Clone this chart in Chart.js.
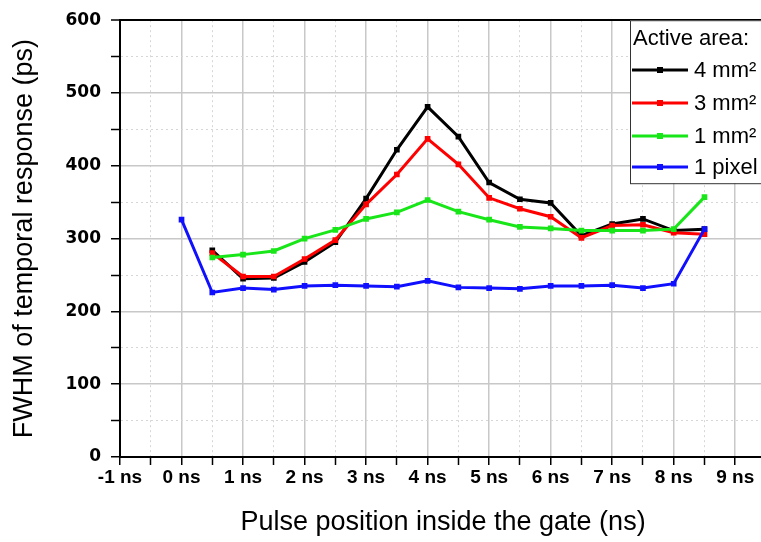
<!DOCTYPE html>
<html>
<head>
<meta charset="utf-8">
<script src="https://cdn.jsdelivr.net/npm/chart.js@4/dist/chart.umd.min.js"></script>
<style>
  html, body { margin: 0; padding: 0; background: #fff; overflow: hidden; }
  #wrap { width: 761px; height: 542px; overflow: hidden; }
</style>
</head>
<body>
<div id="wrap"><canvas id="graph" width="800" height="542"></canvas></div>
<script>
// pulse positions (ns)
const positions = [0, 0.5, 1, 1.5, 2, 2.5, 3, 3.5, 4, 4.5, 5, 5.5, 6, 6.5, 7, 7.5, 8, 8.5];

// FWHM (ps) per active area, null = not measured
const area4mm = [null, 284, 245, 246, 268, 295, 355, 422, 481, 440, 377, 354, 349, 304, 320, 327, 311, 313];
const area3mm = [null, 280, 248, 248, 272, 298, 347, 388, 437, 402, 356, 341, 330, 301, 318, 319, 308, 306];
const area1mm = [null, 274, 278, 283, 300, 312, 327, 336, 353, 337, 326, 316, 314, 311, 311, 311, 313, 357];
const area1pix = [326, 226, 232, 230, 235, 236, 235, 234, 242, 233, 232, 231, 235, 235, 236, 232, 238, 313];

const seriesNames = ['4 mm\u00B2', '3 mm\u00B2', '1 mm\u00B2', '1 pixel'];
const seriesColors = ['#000000', '#ff0000', '#19e619', '#1010ff'];
const legendTitle = 'Active area:';

function toPoints(arr) {
    return positions.map((x, i) => ({ x: x, y: arr[i] }));
}

function isMajor(ctx, step) {
    if (!ctx.tick) return true;
    return Math.abs(ctx.tick.value / step - Math.round(ctx.tick.value / step)) < 1e-6;
}

// legend box drawn in the upper right, like the original
const boxLegend = {
    id: 'boxLegend',
    afterDraw(chart) {
        const c = chart.ctx;
        const top = chart.chartArea.top;
        c.save();
        c.fillStyle = '#fff';
        c.strokeStyle = '#333';
        c.lineWidth = 1;
        c.fillRect(630, top, 170, 163);
        c.strokeRect(630.5, top + 0.5, 170, 163);
        c.fillStyle = '#000';
        c.textBaseline = 'middle';
        c.font = '22px "Liberation Sans", Arial, sans-serif';
        c.fillText(legendTitle, 633, top + 19);
        const rows = [70, 103, 136, 167];
        chart.data.datasets.forEach((ds, i) => {
            const y = rows[i];
            c.strokeStyle = ds.borderColor;
            c.lineWidth = 3;
            c.beginPath();
            c.moveTo(632, y);
            c.lineTo(688, y);
            c.stroke();
            c.fillStyle = ds.borderColor;
            c.fillRect(657, y - 3, 6, 6);
            c.fillStyle = '#000';
            c.fillText(ds.label, 694, y + 1);
        });
        c.restore();
    }
};

const datasets = [area4mm, area3mm, area1mm, area1pix].map((arr, i) => ({
    label: seriesNames[i],
    data: toPoints(arr),
    borderColor: seriesColors[i],
    backgroundColor: seriesColors[i],
    borderWidth: 3,
    pointStyle: 'rect',
    pointRadius: 4,
    pointBorderWidth: 0,
    tension: 0,
    spanGaps: false,
    order: 3 - i          // later series on top
}));

const tickFontX = { family: '"Liberation Sans", Arial, sans-serif', size: 19, weight: 'bold' };
const tickFontY = { family: '"DejaVu Sans", sans-serif', size: 17, weight: 'bold' };

new Chart(document.getElementById('graph').getContext('2d'), {
    type: 'line',
    data: { datasets: datasets },
    options: {
        responsive: false,
        animation: false,
        layout: { padding: { top: 19, right: 34, left: 0, bottom: 0 } },
        plugins: { legend: { display: false }, tooltip: { enabled: false } },
        scales: {
            x: {
                type: 'linear',
                min: -1,
                max: 9.5,
                ticks: {
                    stepSize: 0.5,
                    autoSkip: false,
                    maxRotation: 0,
                    padding: 1,
                    color: '#000',
                    font: tickFontX,
                    callback: v => Number.isInteger(v) ? v + ' ns' : ''
                },
                grid: {
                    color: ctx => isMajor(ctx, 1) ? '#c8c8c8' : '#d6d6d6',
                    lineWidth: ctx => isMajor(ctx, 1) ? 1.5 : 1,
                    tickColor: '#000',
                    tickLength: 8,
                    tickWidth: 1.5
                },
                border: {
                    color: '#000',
                    width: 2,
                    dash: ctx => isMajor(ctx, 1) ? [] : [2, 3]
                },
                title: {
                    display: true,
                    text: 'Pulse position inside the gate (ns)',
                    color: '#000',
                    font: { family: '"Liberation Sans", Arial, sans-serif', size: 27 },
                    padding: { top: 3, bottom: 3 }
                },
                afterFit: s => { s.height = 85; }
            },
            y: {
                min: 0,
                max: 600,
                ticks: {
                    stepSize: 50,
                    autoSkip: false,
                    padding: 10,
                    color: '#000',
                    font: tickFontY,
                    callback: v => v % 100 === 0 ? v : ''
                },
                grid: {
                    color: ctx => {
                        if (ctx.tick && ctx.tick.value === 600) return '#000';
                        return isMajor(ctx, 100) ? '#c8c8c8' : '#d6d6d6';
                    },
                    lineWidth: ctx => {
                        if (ctx.tick && ctx.tick.value === 600) return 2;
                        return isMajor(ctx, 100) ? 1.5 : 1;
                    },
                    tickColor: '#000',
                    tickLength: 9,
                    tickWidth: 1.5
                },
                border: {
                    color: '#000',
                    width: 2,
                    dash: ctx => isMajor(ctx, 100) ? [] : [2, 3]
                },
                title: {
                    display: true,
                    text: 'FWHM of temporal response (ps)',
                    color: '#000',
                    font: { family: '"Liberation Sans", Arial, sans-serif', size: 27 },
                    padding: { top: 8, bottom: 0 }
                },
                afterFit: s => { s.width = 120; }
            }
        }
    },
    plugins: [boxLegend]
});
</script>
</body>
</html>
